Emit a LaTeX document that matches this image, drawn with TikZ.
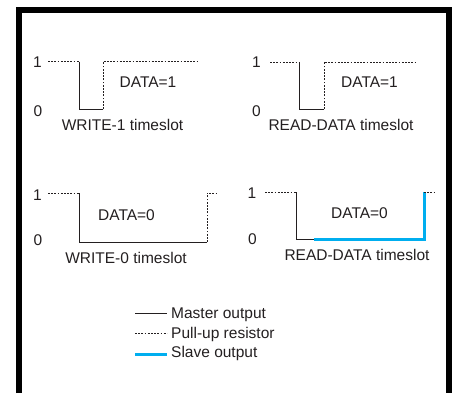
\documentclass[tikz,border=0pt]{standalone}
\usepackage{fontspec}
\setmainfont{Liberation Sans}
\definecolor{slaveblue}{RGB}{0,174,239}
\definecolor{ink}{RGB}{35,31,32}
\begin{document}
\begin{tikzpicture}[x=1pt,y=-1pt,
  lbl/.style={inner sep=0pt,text=ink,font=\fontsize{15.5}{18}\selectfont},
  master/.style={draw=ink,line width=1pt},
  pullup/.style={draw=ink,line width=0.9pt,dash pattern=on 1.8pt off 1.4pt},
  slave/.style={draw=slaveblue,line width=3pt},
  frame/.style={draw=black,line width=6pt,miter limit=10}]
\useasboundingbox (0,0) rectangle (454,393);
% frame
\draw[frame] (19,393) -- (19,10.5) -- (448.5,10.5) -- (448.5,393);
% ---- top left: WRITE-1
\coordinate (a1) at (48,61.7); \coordinate (a2) at (79,61.7);
\coordinate (a3) at (79,109); \coordinate (a4) at (103,109);
\coordinate (a5) at (103,61.7); \coordinate (a6) at (197,61.7);
\draw[pullup] (a1) -- (a2);
\draw[master] (a2) -- (a3) -- (a4);
\draw[pullup] (a4) -- (a5) -- (a6);
\node[lbl] (a1l) at (37.5,62.5) {1};
\node[lbl] (a0l) at (38,111) {0};
\node[lbl] (adata) at (148,82) {DATA=1};
\node[lbl] (aname) at (122.5,125) {WRITE-1 timeslot};
% ---- top right: READ-DATA (1)
\coordinate (b1) at (270,62); \coordinate (b2) at (299,62);
\coordinate (b3) at (299,109); \coordinate (b4) at (324,109);
\coordinate (b5) at (324,62); \coordinate (b6) at (416,62);
\draw[pullup] (b1) -- (b2);
\draw[master] (b2) -- (b3) -- (b4);
\draw[pullup] (b4) -- (b5) -- (b6);
\node[lbl] (b1l) at (256.5,62.5) {1};
\node[lbl] (b0l) at (256.5,111) {0};
\node[lbl] (bdata) at (369.5,82) {DATA=1};
\node[lbl] (bname) at (341,125) {READ-DATA timeslot};
% ---- bottom left: WRITE-0
\coordinate (c1) at (48,193); \coordinate (c2) at (79,193);
\coordinate (c3) at (79,242); \coordinate (c4) at (207,242);
\coordinate (c5) at (207,193); \coordinate (c6) at (217,193);
\draw[pullup] (c1) -- (c2);
\draw[master] (c2) -- (c3) -- (c4);
\draw[pullup] (c4) -- (c5) -- (c6);
\node[lbl] (c1l) at (37.5,195) {1};
\node[lbl] (c0l) at (38,240) {0};
\node[lbl] (cdata) at (126.5,215) {DATA=0};
\node[lbl] (cname) at (126,258) {WRITE-0 timeslot};
% ---- bottom right: READ-DATA (0)
\coordinate (d1) at (265,192); \coordinate (d2) at (296,192);
\coordinate (d3) at (296,239); \coordinate (d4) at (314,239);
\coordinate (d5) at (424,239); \coordinate (d6) at (424,192);
\coordinate (d7) at (435,192);
\draw[pullup] (d1) -- (d2);
\draw[master] (d2) -- (d3) -- (d4);
\draw[slave] (d4) -- (d5) -- (d6);
\draw[pullup] (d6) -- (d7);
\node[lbl] (d1l) at (252,193) {1};
\node[lbl] (d0l) at (252.5,239) {0};
\node[lbl] (ddata) at (359.5,213) {DATA=0};
\node[lbl] (dname) at (357,255) {READ-DATA timeslot};
% ---- legend
\coordinate (m1) at (135,313); \coordinate (m2) at (167,313);
\coordinate (p1) at (135,333); \coordinate (p2) at (167,333);
\coordinate (s1) at (135,354); \coordinate (s2) at (167,354);
\draw[master] (m1) -- (m2);
\draw[pullup] (p1) -- (p2);
\draw[slave] (s1) -- (s2);
\node[lbl,anchor=west] (mt) at (171,315) {Master output};
\node[lbl,anchor=west] (pt) at (171,334) {Pull-up resistor};
\node[lbl,anchor=west] (st) at (171,353) {Slave output};
\end{tikzpicture}
\end{document}
